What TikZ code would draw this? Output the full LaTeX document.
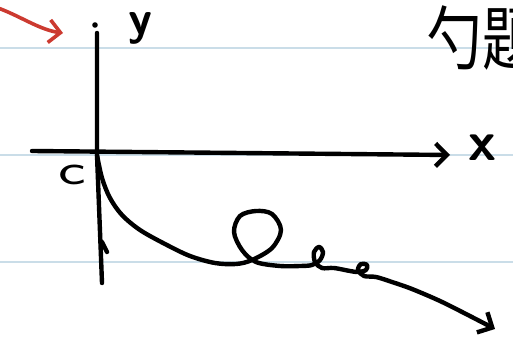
\documentclass[tikz,border=0pt]{standalone}
\usepackage{fontspec}
\newfontfamily\cjkfont{Noto Sans CJK SC}
\usetikzlibrary{arrows.meta}
\definecolor{sketchInk}{HTML}{000000}
\definecolor{sketchRed}{HTML}{CC3A30}
\definecolor{sketchRule}{HTML}{CADDE8}
\tikzset{
  every picture/.style={font=\sffamily, text=sketchInk},
  sketch pen/.style={draw=sketchInk, line width=2.2pt, line cap=round, line join=round},
  sketch rule/.style={draw=sketchRule, line width=1pt},
  sketch red/.style={draw=sketchRed, line width=1.8pt, line cap=round},
  sketch tip/.style={-{Straight Barb[length=2mm,width=4mm,line width=2.2pt]}},
  sketch label/.style={inner sep=0pt, font=\sffamily\bfseries\fontsize{24}{24}\selectfont}
}
\begin{document}
\begin{tikzpicture}[x=0.5pt,y=-0.5pt]
  \useasboundingbox (0,0) rectangle (513,346);
  \clip (0,0) rectangle (513,346);
  % ruled paper
  \foreach \ry in {48,155,262}
    \draw[sketch rule] (0,\ry) -- (513,\ry);
  % axes
  \coordinate (O) at (97,155);
  \coordinate (xstart) at (32,151);
  \coordinate (xend) at (450,155);
  \coordinate (ytop) at (97,33);
  \coordinate (ybot) at (102,283);
  \coordinate (ydot) at (95,25);
  \draw[sketch pen, sketch tip] (xstart) -- (xend);
  \draw[sketch pen] (ytop) -- (O) -- (ybot);
  \fill[sketchInk] (ydot) circle (2.8);
  \draw[sketch pen] (102,242) -- (107,252);
  \node[sketch label] (ylabel) at (140,28) {y};
  \node[sketch label, font=\sffamily\bfseries\fontsize{28}{28}\selectfont] (xlabel) at (482,148) {x};
  \node[sketch label, font=\sffamily\fontsize{22}{22}\selectfont, xscale=1.5] (olabel) at (72,175) {c};
  \node[anchor=west, inner sep=0pt, yscale=1.25, font=\cjkfont\fontsize{28}{28}\selectfont] (title) at (426,38) {勺題};
  % the curve
  \draw[sketch pen, sketch tip] plot[smooth, tension=0.55] coordinates {
    (O) (102,178) (110,198) (122,215) (140,230) (165,244) (190,256)
    (215,263) (236,264) (252,260) (272,248) (281,230) (272,214)
    (256,211) (240,216) (234,232) (242,250) (256,262) (280,266)
    (300,266) (312,265) (320,260) (323,252) (319,247) (314,252)
    (315,262) (322,268) (334,268) (350,271) (358,272) (366,270)
    (367,265) (361,264) (358,270) (364,276) (376,277)
    (392,282) (412,289) (440,301) (466,314) (495,329)};
  % red pointer
  \coordinate (redstart) at (-2,8);
  \coordinate (redend) at (63,33);
  \draw[sketch red, -{Straight Barb[length=2mm,width=4mm,line width=1.8pt]}]
    (redstart) .. controls (20,16) and (40,30) .. (redend);
\end{tikzpicture}
\end{document}
